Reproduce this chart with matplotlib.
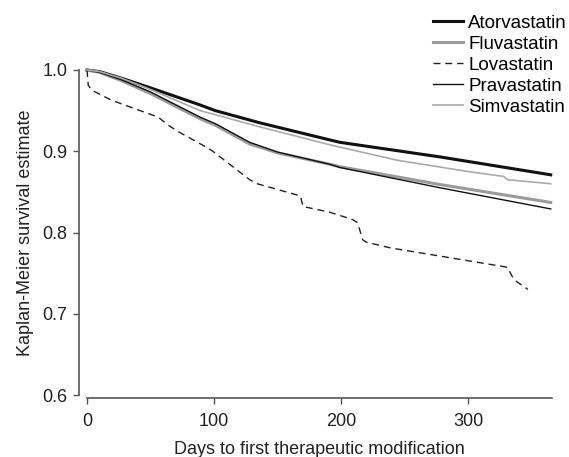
import matplotlib
matplotlib.use("Agg")
import matplotlib.pyplot as plt

plt.rcParams['font.family'] = ['Liberation Sans', 'DejaVu Sans']

# Kaplan-Meier curves (days, survival estimate)
ator_days = [0, 10, 27, 50, 89, 101, 136, 191, 199, 278, 365]
ator_surv = [1.0, 0.998, 0.990, 0.978, 0.957, 0.950, 0.935, 0.914, 0.911, 0.893, 0.871]

fluv_days = [0, 10, 27, 50, 89, 101, 128, 150, 191, 199, 278, 365]
fluv_surv = [1.0, 0.997, 0.987, 0.971, 0.940, 0.932, 0.909, 0.898, 0.884, 0.881, 0.859, 0.837]

lova_days = [0, 1, 4, 19, 40, 56, 64, 72, 95, 99, 128, 134, 168, 170, 191,
             209, 213, 217, 220, 239, 328, 331, 336, 347]
lova_surv = [1.0, 0.981, 0.975, 0.963, 0.951, 0.942, 0.932, 0.924, 0.904, 0.900,
             0.865, 0.860, 0.845, 0.832, 0.825, 0.816, 0.812, 0.791, 0.788, 0.781,
             0.758, 0.757, 0.742, 0.730]

prav_days = [0, 10, 27, 50, 89, 101, 128, 150, 191, 199, 278, 365]
prav_surv = [1.0, 0.997, 0.988, 0.973, 0.942, 0.934, 0.911, 0.899, 0.884, 0.880, 0.855, 0.829]

simv_days = [0, 10, 27, 50, 89, 101, 136, 191, 244, 300, 328, 331, 365]
simv_surv = [1.0, 0.998, 0.990, 0.976, 0.950, 0.945, 0.930, 0.908, 0.889, 0.875, 0.869, 0.865, 0.860]

x_ticks = [0, 100, 200, 300]
y_ticks = [0.6, 0.7, 0.8, 0.9, 1.0]

fig = plt.figure(figsize=(5.69, 4.57), dpi=100)
ax = fig.add_axes([87 / 569, 1 - 395 / 457, (552 - 87) / 569, (395 - 70) / 457])

ax.plot(ator_days, ator_surv, color='#111111', lw=2.2, label='Atorvastatin', clip_on=False)
ax.plot(fluv_days, fluv_surv, color='#9a9a9a', lw=2.2, label='Fluvastatin', clip_on=False)
ax.plot(lova_days, lova_surv, color='#222222', lw=1.0, dashes=(5, 3.5), label='Lovastatin', clip_on=False)
ax.plot(prav_days, prav_surv, color='#111111', lw=1.0, label='Pravastatin', clip_on=False)
ax.plot(simv_days, simv_surv, color='#aaaaaa', lw=1.2, label='Simvastatin', clip_on=False)

ax.set_xlim(0, 366)
ax.set_ylim(0.6, 1.0)
ax.set_xticks(x_ticks)
ax.set_yticks(y_ticks)
ax.set_xticklabels([str(t) for t in x_ticks])
ax.set_yticklabels([f"{t:.1f}" for t in y_ticks])

for side in ['top', 'right']:
    ax.spines[side].set_visible(False)
ax.spines['left'].set_position(('outward', 6))
ax.spines['bottom'].set_position(('outward', 2))
for side in ['left', 'bottom']:
    ax.spines[side].set_color('#555555')
    ax.spines[side].set_linewidth(1.2)
ax.tick_params(length=4, width=1, color='#555555', labelsize=13, labelcolor='#222222', pad=4)
ax.tick_params(axis='x', pad=7)

ax.set_xlabel("Days to first therapeutic modification", fontsize=13, color='#222222', labelpad=8)
ax.set_ylabel("Kaplan-Meier survival estimate", fontsize=13, color='#222222', labelpad=6)

fig.legend(loc='upper right', bbox_to_anchor=(1.0, 1 - 13 / 457), frameon=False, fontsize=13.5,
           handlelength=1.6, handletextpad=0.3, labelspacing=0.2, borderpad=0.1,
           borderaxespad=0.0)

fig.savefig("out.png", dpi=100)
